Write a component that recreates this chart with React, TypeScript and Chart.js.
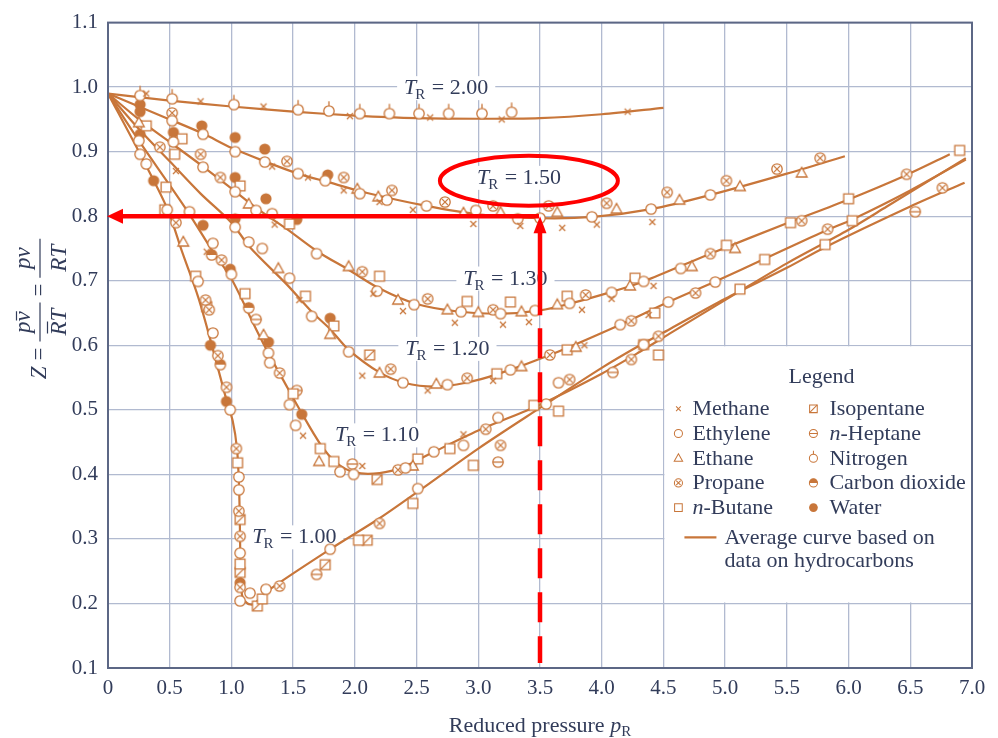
import React, { useEffect, useRef } from "react";
import { Chart, registerables } from "chart.js";

Chart.register(...registerables);

type P = [number, number];

// ---------------- data ----------------
const curveLabels = ["2.00", "1.50", "1.30", "1.20", "1.10", "1.00"];

const tr200: P[] = [[0,0.99],[0.5,0.979],[1.0,0.97],[1.5,0.962],[2.0,0.956],[2.5,0.952],[3.0,0.951],[3.5,0.952],[4.0,0.958],[4.5,0.968]];
const tr150: P[] = [[0,0.99],[0.25,0.97],[0.5,0.95],[0.77,0.928],[1.0,0.906],[1.27,0.885],[1.54,0.866],[1.8,0.852],[2.1,0.836],[2.58,0.816],[3.0,0.803],[3.5,0.797],[3.93,0.799],[4.4,0.811],[4.88,0.833],[5.5,0.866],[5.97,0.893]];
const tr130: P[] = [[0,0.99],[0.25,0.95],[0.5,0.915],[0.77,0.877],[1.0,0.843],[1.2,0.813],[1.45,0.78],[1.7,0.745],[1.95,0.717],[2.2,0.688],[2.5,0.664],[2.85,0.652],[3.2,0.649],[3.5,0.654],[3.75,0.665],[4.1,0.684],[4.34,0.699],[4.88,0.742],[5.5,0.789],[6.0,0.826],[6.47,0.864],[6.82,0.896]];
const tr120: P[] = [[0,0.99],[0.25,0.935],[0.5,0.885],[0.75,0.835],[1.0,0.79],[1.15,0.752],[1.45,0.694],[1.65,0.652],[1.8,0.625],[1.95,0.593],[2.2,0.558],[2.4,0.542],[2.65,0.536],[2.9,0.542],[3.15,0.555],[3.58,0.585],[4.15,0.632],[4.54,0.667],[4.92,0.699],[5.32,0.734],[5.83,0.779],[6.03,0.795],[6.5,0.84],[6.95,0.888]];
const tr110: P[] = [[0,0.99],[0.25,0.917],[0.5,0.848],[0.66,0.803],[0.85,0.745],[1.0,0.703],[1.2,0.625],[1.31,0.584],[1.42,0.546],[1.56,0.498],[1.72,0.447],[1.85,0.418],[2.0,0.403],[2.2,0.402],[2.4,0.412],[2.61,0.432],[3.0,0.468],[3.5,0.508],[4.0,0.556],[4.31,0.59],[4.55,0.618],[5.12,0.684],[5.5,0.727],[6.0,0.779],[6.31,0.815],[6.95,0.89]];
const tr100: P[] = [[0,0.99],[0.25,0.9],[0.48,0.812],[0.6,0.745],[0.73,0.675],[0.83,0.608],[0.96,0.515],[1.01,0.483],[1.045,0.44],[1.062,0.38],[1.07,0.3],[1.075,0.235],[1.09,0.21],[1.13,0.2],[1.18,0.199],[1.29,0.219],[1.8,0.284],[2.2,0.332],[2.53,0.376],[3.0,0.44],[3.5,0.503],[4.0,0.565],[4.31,0.6],[4.55,0.625],[5.0,0.672],[5.5,0.72],[5.81,0.752],[6.5,0.815],[6.94,0.852]];

const methane: P[] = [[0.31,0.99],[0.75,0.978],[1.26,0.97],[1.96,0.955],[2.61,0.953],[3.19,0.95],[4.21,0.962],[1.33,0.877],[1.62,0.86],[1.91,0.84],[2.2,0.822],[2.47,0.81],[2.96,0.788],[3.34,0.785],[3.68,0.782],[3.96,0.787],[4.41,0.791],[1.35,0.787],[2.15,0.68],[2.39,0.653],[2.81,0.635],[3.2,0.632],[3.41,0.636],[3.84,0.655],[4.08,0.672],[4.42,0.692],[1.55,0.67],[2.06,0.553],[2.59,0.53],[3.12,0.545],[3.86,0.6],[4.38,0.647],[1.58,0.46],[2.06,0.413],[2.88,0.462],[0.55,0.87],[0.8,0.745]];
const ethylene: P[] = [[0.52,0.948],[0.77,0.927],[1.03,0.9],[1.27,0.884],[1.54,0.866],[1.76,0.855],[2.04,0.835],[2.26,0.825],[2.58,0.816],[2.98,0.809],[3.32,0.796],[3.5,0.797],[3.92,0.799],[4.4,0.811],[4.88,0.833],[0.53,0.915],[0.77,0.876],[1.03,0.838],[1.2,0.809],[1.33,0.804],[1.69,0.742],[2.18,0.684],[2.48,0.663],[2.86,0.652],[3.18,0.649],[3.46,0.654],[3.74,0.665],[4.08,0.682],[4.34,0.699],[4.64,0.719],[1.03,0.783],[1.14,0.76],[1.25,0.75],[1.47,0.704],[1.65,0.645],[1.95,0.59],[2.39,0.542],[2.75,0.539],[3.26,0.562],[4.15,0.632],[4.54,0.667],[4.92,0.698],[0.25,0.917],[0.66,0.807],[0.85,0.758],[1.0,0.71],[1.3,0.588],[1.31,0.573],[1.47,0.508],[1.52,0.476],[1.88,0.404],[1.99,0.4],[2.41,0.41],[2.64,0.435],[2.88,0.445],[3.16,0.488],[3.55,0.509],[0.26,0.896],[0.31,0.881],[0.48,0.81],[0.73,0.699],[0.85,0.619],[0.99,0.5],[1.06,0.396],[1.06,0.376],[1.07,0.278],[1.07,0.204],[1.15,0.216],[1.28,0.222],[1.8,0.284],[2.51,0.378],[4.34,0.601],[3.65,0.542]];
const ethane: P[] = [[0.25,0.945],[1.14,0.819],[2.02,0.842],[2.19,0.83],[2.88,0.805],[3.18,0.806],[3.64,0.806],[4.12,0.811],[4.63,0.825],[5.12,0.846],[5.62,0.867],[1.95,0.722],[2.35,0.67],[2.75,0.655],[3.0,0.651],[3.35,0.652],[3.64,0.663],[4.23,0.692],[4.73,0.722],[5.08,0.75],[1.38,0.719],[1.8,0.617],[2.2,0.557],[2.66,0.54],[3.35,0.567],[3.79,0.597],[1.26,0.616],[1.71,0.42],[2.47,0.413],[0.61,0.76]];
const propane: P[] = [[0.52,0.96],[1.45,0.885],[1.91,0.86],[2.3,0.84],[2.73,0.822],[3.12,0.816],[3.57,0.816],[4.04,0.82],[4.53,0.837],[5.01,0.855],[5.42,0.873],[5.77,0.89],[0.42,0.907],[0.75,0.896],[0.91,0.86],[2.06,0.714],[2.59,0.672],[3.12,0.655],[3.87,0.678],[4.88,0.742],[5.62,0.793],[6.47,0.865],[2.29,0.563],[2.91,0.549],[3.58,0.585],[4.24,0.638],[4.76,0.681],[5.83,0.78],[6.76,0.844],[0.92,0.732],[1.39,0.557],[2.35,0.407],[3.06,0.47],[3.74,0.547],[4.46,0.614],[0.55,0.79],[0.79,0.67],[0.82,0.655],[0.89,0.584],[0.96,0.535],[1.04,0.44],[1.06,0.343],[1.07,0.304],[1.07,0.225],[1.39,0.227],[2.2,0.324],[3.18,0.445],[4.24,0.578]];
const butane: P[] = [[0.31,0.94],[0.6,0.92],[0.54,0.896],[1.07,0.847],[1.47,0.788],[2.2,0.707],[2.91,0.668],[3.26,0.667],[3.72,0.676],[4.27,0.704],[5.01,0.755],[5.53,0.79],[6.0,0.827],[6.9,0.902],[0.47,0.845],[1.6,0.676],[1.83,0.63],[3.15,0.556],[3.72,0.593],[4.43,0.65],[5.32,0.733],[6.03,0.793],[1.11,0.68],[1.5,0.525],[1.72,0.44],[1.83,0.42],[2.51,0.424],[2.77,0.44],[3.45,0.507],[4.34,0.601],[5.12,0.687],[0.46,0.81],[0.71,0.707],[1.05,0.418],[1.07,0.261],[1.25,0.207],[2.03,0.298],[2.47,0.355],[2.96,0.414],[3.65,0.498],[4.46,0.585],[5.81,0.756]];
const isopentane: P[] = [[1.07,0.33],[1.07,0.248],[1.21,0.196],[1.76,0.26],[2.1,0.298],[2.12,0.585],[2.18,0.392],[0.8,0.66]];
const heptane: P[] = [[1.2,0.64],[1.53,0.53],[1.98,0.416],[1.69,0.245],[3.16,0.419],[4.09,0.558],[6.54,0.807]];
const nitrogen: P[] = [[0.26,0.987],[0.52,0.982],[1.02,0.973],[1.54,0.965],[1.79,0.963],[2.04,0.959],[2.28,0.959],[2.52,0.959],[2.76,0.959],[3.03,0.959],[3.27,0.961]];
const co2: P[] = [[0.91,0.57],[1.14,0.658],[0.84,0.74]];
const water: P[] = [[0.26,0.973],[0.26,0.962],[0.76,0.94],[1.03,0.922],[1.27,0.904],[1.78,0.864],[0.26,0.927],[0.53,0.93],[1.03,0.86],[1.28,0.827],[1.53,0.795],[0.37,0.855],[0.77,0.786],[1.03,0.796],[0.83,0.6],[0.96,0.513],[0.99,0.718],[1.3,0.605],[1.57,0.493],[1.8,0.642],[1.07,0.232]];

const legendLeft = ["Methane", "Ethylene", "Ethane", "Propane", "n-Butane"];
const legendRight = ["Isopentane", "n-Heptane", "Nitrogen", "Carbon dioxide", "Water"];
const legendAvg = ["Average curve based on", "data on hydrocarbons"];
const xTitleText = "Reduced pressure ";

// ---------------- styles / annotation anchors ----------------
const ORANGE = "#c8763a";
const TEXT = "#323c5a";
const GRID = "#b1bad0";
const AXIS = "#5c6785";
const RED = "#ff0000";
const SERIF = "'Liberation Serif', 'DejaVu Serif', serif";
const labelAnchors: P[] = [[2.74, 1.0], [3.33, 0.861], [3.22, 0.705], [2.75, 0.596], [2.18, 0.462], [1.51, 0.304]];

const curves: P[][] = [tr200, tr150, tr130, tr120, tr110, tr100];
const markerSets: { kind: string; data: P[] }[] = [
  { kind: "methane", data: methane },
  { kind: "ethylene", data: ethylene },
  { kind: "ethane", data: ethane },
  { kind: "propane", data: propane },
  { kind: "butane", data: butane },
  { kind: "isopentane", data: isopentane },
  { kind: "heptane", data: heptane },
  { kind: "nitrogen", data: nitrogen },
  { kind: "co2", data: co2 },
  { kind: "water", data: water },
];
const leftKinds = ["methane", "ethylene", "ethane", "propane", "butane"];
const rightKinds = ["isopentane", "heptane", "nitrogen", "co2", "water"];

function drawMarker(ctx: CanvasRenderingContext2D, kind: string, cx: number, cy: number, s: number) {
  const r = 5.2 * s;
  const h = 4.9 * s;
  ctx.save();
  ctx.strokeStyle = ORANGE;
  ctx.lineWidth = 1.3 * s;
  const circle = () => {
    ctx.beginPath();
    ctx.arc(cx, cy, r, 0, Math.PI * 2);
    ctx.fillStyle = "#ffffff";
    ctx.fill();
    ctx.stroke();
  };
  const square = () => {
    ctx.beginPath();
    ctx.rect(cx - h, cy - h, 2 * h, 2 * h);
    ctx.fillStyle = "#ffffff";
    ctx.fill();
    ctx.stroke();
  };
  switch (kind) {
    case "methane": {
      const d = 3 * s;
      ctx.beginPath();
      ctx.moveTo(cx - d, cy - d); ctx.lineTo(cx + d, cy + d);
      ctx.moveTo(cx - d, cy + d); ctx.lineTo(cx + d, cy - d);
      ctx.stroke();
      break;
    }
    case "ethylene": circle(); break;
    case "ethane": {
      ctx.beginPath();
      ctx.moveTo(cx, cy - 5.6 * s);
      ctx.lineTo(cx + 5.4 * s, cy + 4 * s);
      ctx.lineTo(cx - 5.4 * s, cy + 4 * s);
      ctx.closePath();
      ctx.fillStyle = "#ffffff";
      ctx.fill();
      ctx.stroke();
      break;
    }
    case "propane": {
      circle();
      const d = r * 0.55;
      ctx.beginPath();
      ctx.moveTo(cx - d, cy - d); ctx.lineTo(cx + d, cy + d);
      ctx.moveTo(cx - d, cy + d); ctx.lineTo(cx + d, cy - d);
      ctx.stroke();
      break;
    }
    case "butane": square(); break;
    case "isopentane": {
      square();
      ctx.beginPath();
      ctx.moveTo(cx - h, cy + h); ctx.lineTo(cx + h, cy - h);
      ctx.stroke();
      break;
    }
    case "heptane": {
      circle();
      ctx.beginPath();
      ctx.moveTo(cx - r, cy); ctx.lineTo(cx + r, cy);
      ctx.stroke();
      break;
    }
    case "nitrogen": {
      circle();
      ctx.beginPath();
      ctx.moveTo(cx, cy - r); ctx.lineTo(cx, cy - r - 4.5 * s);
      ctx.stroke();
      break;
    }
    case "co2": {
      circle();
      ctx.beginPath();
      ctx.arc(cx, cy, r, Math.PI, Math.PI * 2);
      ctx.closePath();
      ctx.fillStyle = ORANGE;
      ctx.fill();
      break;
    }
    case "water": {
      ctx.beginPath();
      ctx.arc(cx, cy, r + 0.4 * s, 0, Math.PI * 2);
      ctx.fillStyle = ORANGE;
      ctx.fill();
      break;
    }
  }
  ctx.restore();
}

function markerCanvas(kind: string) {
  const c = document.createElement("canvas");
  c.width = 24;
  c.height = 24;
  const g = c.getContext("2d") as CanvasRenderingContext2D;
  drawMarker(g, kind, 12, 12, 1);
  return c;
}

function trWidth(ctx: CanvasRenderingContext2D, val: string) {
  ctx.font = `italic 22px ${SERIF}`;
  const a = ctx.measureText("T").width;
  ctx.font = `15px ${SERIF}`;
  const b = ctx.measureText("R").width;
  ctx.font = `22px ${SERIF}`;
  const c = ctx.measureText(" = " + val).width;
  return { a, b, c, total: a + b + c };
}

function drawTR(ctx: CanvasRenderingContext2D, cx: number, cy: number, val: string) {
  const w = trWidth(ctx, val);
  let x = cx - w.total / 2;
  const base = cy + 7;
  ctx.fillStyle = TEXT;
  ctx.textBaseline = "alphabetic";
  ctx.textAlign = "left";
  ctx.font = `italic 22px ${SERIF}`;
  ctx.fillText("T", x, base);
  x += w.a - 1;
  ctx.font = `15px ${SERIF}`;
  ctx.fillText("R", x, base + 5);
  x += w.b + 1;
  ctx.font = `22px ${SERIF}`;
  ctx.fillText(" = " + val, x, base);
}

function drawLegendName(ctx: CanvasRenderingContext2D, name: string, x: number, y: number) {
  ctx.fillStyle = TEXT;
  ctx.textAlign = "left";
  ctx.textBaseline = "alphabetic";
  if (name.startsWith("n-")) {
    ctx.font = `italic 22px ${SERIF}`;
    ctx.fillText("n", x, y);
    const w = ctx.measureText("n").width;
    ctx.font = `22px ${SERIF}`;
    ctx.fillText(name.slice(1), x + w, y);
  } else {
    ctx.font = `22px ${SERIF}`;
    ctx.fillText(name, x, y);
  }
}

const annotationPlugin = {
  id: "annot",
  beforeDraw(chart: any) {
    const ctx = chart.ctx;
    ctx.save();
    ctx.fillStyle = "#ffffff";
    ctx.fillRect(0, 0, chart.width, chart.height);
    ctx.restore();
  },
  beforeDatasetsDraw(chart: any) {
    const ctx: CanvasRenderingContext2D = chart.ctx;
    const xs = chart.scales.x;
    const ys = chart.scales.y;
    ctx.save();
    // legend box
    const bl = xs.getPixelForValue(4.5) + 1;
    const br = xs.getPixelForValue(7) - 1;
    const bt = ys.getPixelForValue(0.6) + 1;
    const bb = ys.getPixelForValue(0.2) - 1;
    ctx.fillStyle = "#ffffff";
    ctx.fillRect(bl, bt, br - bl, bb - bt);
    // curve labels
    curveLabels.forEach((val, i) => {
      const cx = xs.getPixelForValue(labelAnchors[i][0]);
      const cy = ys.getPixelForValue(labelAnchors[i][1]);
      const w = trWidth(ctx, val);
      ctx.fillStyle = "#ffffff";
      ctx.fillRect(cx - w.total / 2 - 7, cy - 11, w.total + 14, 24);
      drawTR(ctx, cx, cy, val);
    });
    // legend content
    const top = ys.getPixelForValue(0.6);
    const left = xs.getPixelForValue(4.5);
    ctx.fillStyle = TEXT;
    ctx.font = `22px ${SERIF}`;
    ctx.textAlign = "center";
    ctx.textBaseline = "alphabetic";
    ctx.fillText("Legend", left + 158, top + 38);
    for (let i = 0; i < 5; i++) {
      const base = top + 70 + i * 24.7;
      drawMarker(ctx, leftKinds[i], left + 15, base - 6.5, 0.78);
      drawLegendName(ctx, legendLeft[i], left + 29, base);
      drawMarker(ctx, rightKinds[i], left + 150, base - 6.5, 0.78);
      drawLegendName(ctx, legendRight[i], left + 166, base);
    }
    ctx.strokeStyle = ORANGE;
    ctx.lineWidth = 2.2;
    ctx.beginPath();
    ctx.moveTo(left + 21, top + 192);
    ctx.lineTo(left + 53, top + 192);
    ctx.stroke();
    drawLegendName(ctx, legendAvg[0], left + 61, top + 199);
    drawLegendName(ctx, legendAvg[1], left + 61, top + 222);
    ctx.restore();
  },
  afterDraw(chart: any) {
    const ctx: CanvasRenderingContext2D = chart.ctx;
    const xs = chart.scales.x;
    const ys = chart.scales.y;
    const ca = chart.chartArea;
    ctx.save();
    // frame
    ctx.strokeStyle = AXIS;
    ctx.lineWidth = 2;
    ctx.strokeRect(ca.left, ca.top, ca.right - ca.left, ca.bottom - ca.top);

    // x title
    ctx.fillStyle = TEXT;
    ctx.textBaseline = "alphabetic";
    ctx.textAlign = "left";
    ctx.font = `22px ${SERIF}`;
    const w1 = ctx.measureText(xTitleText).width;
    ctx.font = `italic 22px ${SERIF}`;
    const w2 = ctx.measureText("p").width;
    ctx.font = `15px ${SERIF}`;
    const w3 = ctx.measureText("R").width;
    let tx = 540 - (w1 + w2 + w3) / 2;
    ctx.font = `22px ${SERIF}`;
    ctx.fillText(xTitleText, tx, 732);
    tx += w1;
    ctx.font = `italic 22px ${SERIF}`;
    ctx.fillText("p", tx, 732);
    tx += w2;
    ctx.font = `15px ${SERIF}`;
    ctx.fillText("R", tx, 736);

    // y title (rotated)
    ctx.save();
    ctx.translate(46, 309);
    ctx.rotate(-Math.PI / 2);
    const fs = 23;
    const it = `italic ${fs}px ${SERIF}`;
    const rm = `${fs}px ${SERIF}`;
    ctx.font = it;
    const wZ = ctx.measureText("Z").width;
    const wp = ctx.measureText("p").width;
    const wv = ctx.measureText("v").width;
    const wR = ctx.measureText("R").width;
    const wT = ctx.measureText("T").width;
    ctx.font = rm;
    const wEq = ctx.measureText("=").width;
    const numW = wp + wv;
    const denW = wR + wT;
    const fracW = Math.max(numW, denW) + 12;
    const gap = 6;
    const total = wZ + gap + wEq + gap + fracW + gap + wEq + gap + fracW;
    let u = -total / 2;
    ctx.fillStyle = TEXT;
    ctx.strokeStyle = TEXT;
    ctx.lineWidth = 1.2;
    ctx.font = it;
    ctx.fillText("Z", u, 0);
    u += wZ + gap;
    ctx.font = rm;
    ctx.fillText("=", u, 0);
    u += wEq + gap;
    const drawFrac = (u0: number, bars: boolean) => {
      const nx = u0 + (fracW - numW) / 2;
      const dx = u0 + (fracW - denW) / 2;
      ctx.font = it;
      ctx.fillText("p", nx, -16);
      ctx.fillText("v", nx + wp, -16);
      ctx.fillText("R", dx, 19.5);
      ctx.fillText("T", dx + wR, 19.5);
      ctx.beginPath();
      ctx.moveTo(u0, -6);
      ctx.lineTo(u0 + fracW, -6);
      if (bars) {
        ctx.moveTo(nx + wp + 1, -29.5);
        ctx.lineTo(nx + wp + wv, -29.5);
        ctx.moveTo(dx + 2, 1.5);
        ctx.lineTo(dx + wR, 1.5);
      }
      ctx.stroke();
    };
    drawFrac(u, true);
    u += fracW + gap;
    ctx.font = rm;
    ctx.fillText("=", u, 0);
    u += wEq + gap;
    drawFrac(u, false);
    ctx.restore();

    // red annotation
    const px = xs.getPixelForValue(3.5);
    const py = ys.getPixelForValue(0.8);
    ctx.strokeStyle = RED;
    ctx.fillStyle = RED;
    ctx.lineWidth = 4.5;
    ctx.lineCap = "butt";
    ctx.beginPath();
    ctx.moveTo(px - 1, py);
    ctx.lineTo(ca.left + 14, py);
    ctx.stroke();
    ctx.beginPath();
    ctx.moveTo(ca.left - 1, py);
    ctx.lineTo(ca.left + 15, py - 7.5);
    ctx.lineTo(ca.left + 15, py + 7.5);
    ctx.closePath();
    ctx.fill();
    ctx.beginPath();
    ctx.moveTo(px, py);
    ctx.lineTo(px - 6.5, py + 17);
    ctx.lineTo(px + 6.5, py + 17);
    ctx.closePath();
    ctx.fill();
    ctx.beginPath();
    ctx.moveTo(px, py + 15);
    ctx.lineTo(px, py + 99);
    let yy = py + 112;
    while (yy < ca.bottom - 8) {
      ctx.moveTo(px, yy);
      ctx.lineTo(px, Math.min(yy + 30, ca.bottom - 5));
      yy += 44;
    }
    ctx.stroke();
    // ellipse around T_R = 1.50
    const ex = xs.getPixelForValue(3.41);
    const ey = ys.getPixelForValue(0.855);
    ctx.lineWidth = 4;
    ctx.beginPath();
    ctx.ellipse(ex, ey, 89, 25, 0, 0, Math.PI * 2);
    ctx.stroke();
    ctx.restore();
  },
};

export default function App() {
  const ref = useRef<HTMLCanvasElement | null>(null);
  useEffect(() => {
    if (!ref.current) return;
    const datasets: any[] = [];
    markerSets.forEach((m) => {
      datasets.push({
        label: m.kind,
        data: m.data.map(([x, y]) => ({ x, y })),
        showLine: false,
        pointStyle: markerCanvas(m.kind),
        pointRadius: 5,
        order: 0,
      });
    });
    curves.forEach((c, i) => {
      datasets.push({
        label: "TR " + curveLabels[i],
        data: c.map(([x, y]) => ({ x, y })),
        showLine: true,
        borderColor: ORANGE,
        borderWidth: 2.2,
        pointRadius: 0,
        tension: 0.3,
        fill: false,
        order: 1,
      });
    });
    const tickFont = { family: SERIF, size: 21 };
    const chart = new Chart(ref.current, {
      type: "scatter",
      data: { datasets },
      options: {
        responsive: false,
        animation: false,
        devicePixelRatio: 1,
        events: [],
        layout: { padding: { top: 17, right: 26, left: 0, bottom: 0 } },
        plugins: { legend: { display: false }, tooltip: { enabled: false } },
        scales: {
          x: {
            type: "linear",
            min: 0,
            max: 7,
            ticks: {
              stepSize: 0.5,
              color: TEXT,
              font: tickFont,
              padding: 8,
              callback: (v: any) => (Number(v) === 0 ? "0" : Number(v).toFixed(1)),
            },
            grid: { color: GRID, lineWidth: 1.3, drawTicks: false },
            border: { display: false },
            afterFit: (s: any) => { s.height = 70; },
          },
          y: {
            type: "linear",
            min: 0.1,
            max: 1.1,
            ticks: {
              stepSize: 0.1,
              color: TEXT,
              font: tickFont,
              padding: 10,
              callback: (v: any) => Number(v).toFixed(1),
            },
            grid: { color: GRID, lineWidth: 1.3, drawTicks: false },
            border: { display: false },
            afterFit: (s: any) => { s.width = 108; },
          },
        },
      } as any,
      plugins: [annotationPlugin as any],
    });
    return () => chart.destroy();
  }, []);
  return (
    <div style={{ position: "absolute", left: 0, top: 0, width: 998, height: 738, background: "#fff" }}>
      <canvas ref={ref} width={998} height={738} style={{ display: "block" }} />
    </div>
  );
}
